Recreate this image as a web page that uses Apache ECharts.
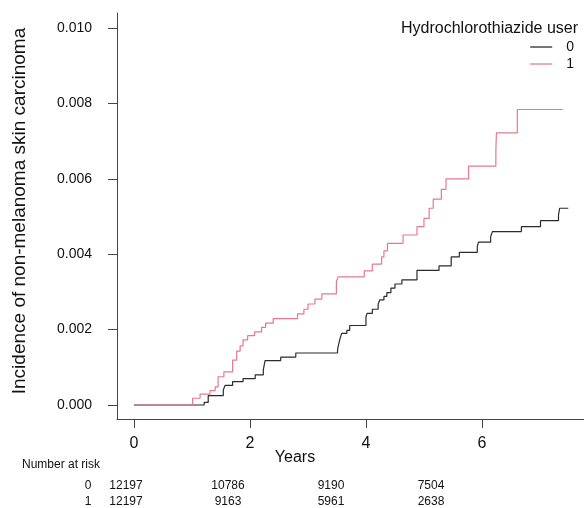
<!DOCTYPE html>
<html>
<head>
<meta charset="utf-8">
<script src="https://cdn.jsdelivr.net/npm/echarts@6/dist/echarts.min.js"></script>
<style>
  html, body { margin: 0; padding: 0; background: #fff; }
  #chart { width: 584px; height: 508px; }
</style>
</head>
<body>
<div id="chart"></div>
<script>
// step points [years, cumulative incidence]
var group0 = [
  [0, 0], [1.21, 0.00007], [1.28, 0.00025], [1.54, 0.00040], [1.57, 0.00052],
  [1.70, 0.00062], [1.88, 0.00070], [2.09, 0.00080], [2.23, 0.00093], [2.26, 0.00118],
  [2.53, 0.00127], [2.79, 0.00138], [3.51, 0.00146], [3.52, 0.00155], [3.55, 0.00174],
  [3.58, 0.00190], [3.67, 0.00198], [3.72, 0.00211], [4.00, 0.00234], [4.02, 0.00243],
  [4.11, 0.00254], [4.21, 0.00268], [4.24, 0.00279], [4.31, 0.00288], [4.36, 0.00298],
  [4.43, 0.00310], [4.50, 0.00321], [4.62, 0.00332], [4.88, 0.00357], [5.26, 0.00369],
  [5.47, 0.00393], [5.61, 0.00405], [5.92, 0.00420], [5.94, 0.00432], [6.15, 0.00446],
  [6.18, 0.00460], [6.68, 0.00473], [7.01, 0.00489], [7.32, 0.00504], [7.34, 0.00522],
  [7.49, 0.00522]
]
var group1 = [
  [0, 0], [1.01, 0.00018], [1.14, 0.00029], [1.31, 0.00038], [1.40, 0.00048],
  [1.45, 0.00075], [1.55, 0.00088], [1.70, 0.00119], [1.77, 0.00143], [1.83, 0.00157],
  [1.88, 0.00173], [1.96, 0.00184], [2.08, 0.00194], [2.20, 0.00206], [2.27, 0.00217],
  [2.40, 0.00229], [2.82, 0.00242], [2.93, 0.00254], [3.00, 0.00268], [3.12, 0.00281],
  [3.24, 0.00295], [3.49, 0.00327], [3.52, 0.00340], [3.97, 0.00356], [4.11, 0.00374],
  [4.27, 0.00393], [4.31, 0.00409], [4.37, 0.00429], [4.64, 0.00451], [4.88, 0.00473],
  [5.00, 0.00495], [5.09, 0.00522], [5.16, 0.00546], [5.30, 0.00572], [5.38, 0.00600],
  [5.77, 0.00634], [6.24, 0.00676], [6.25, 0.00722], [6.61, 0.00784], [7.40, 0.00784]
]
var groupNames = ['0', '1']
var xTicks = [0, 2, 4, 6]
var yTicks = [0, 0.002, 0.004, 0.006, 0.008, 0.010]
var riskLabel = 'Number at risk'
var risk0 = [12197, 10786, 9190, 7504]
var risk1 = [12197, 9163, 5961, 2638]

var font = '"Liberation Sans", Arial, Helvetica, sans-serif'
// column centres of the at-risk table (px)
var riskCols = [126, 228, 331, 431]

var chart = echarts.init(document.getElementById('chart'), null, { renderer: 'canvas' })

var tableText = [{
  type: 'text', x: 22, y: 465,
  style: { text: riskLabel, font: '12px ' + font, fill: '#111', verticalAlign: 'middle' }
}]
var rows = [risk0, risk1]
rows.forEach(function (row, r) {
  var y = 486 + r * 16
  tableText.push({
    type: 'text', x: 88, y: y,
    style: { text: groupNames[r], font: '12px ' + font, fill: '#111', align: 'center', verticalAlign: 'middle' }
  })
  row.forEach(function (n, c) {
    tableText.push({
      type: 'text', x: riskCols[c], y: y,
      style: { text: String(n), font: '12px ' + font, fill: '#111', align: 'center', verticalAlign: 'middle' }
    })
  })
})
tableText.push({
  type: 'text', x: 295, y: 458,
  style: { text: 'Years', font: '16px ' + font, fill: '#111', align: 'center', verticalAlign: 'middle' }
})

var options = {
  animation: false,
  backgroundColor: '#fff',
  textStyle: { fontFamily: font },
  title: {
    text: 'Hydrochlorothiazide user',
    right: 1,
    top: 16,
    textStyle: { fontSize: 16, fontWeight: 'normal', color: '#111', fontFamily: font }
  },
  legend: {
    data: groupNames,
    orient: 'vertical',
    right: 5,
    top: 35,
    icon: 'rect',
    itemWidth: 22,
    itemHeight: 1.3,
    itemGap: 3,
    textStyle: { fontSize: 14, color: '#111', padding: [0, 0, 0, 9], fontFamily: font }
  },
  grid: { left: 117, right: 0, top: 13, bottom: 89 },
  xAxis: {
    type: 'value',
    min: -0.293,
    max: 7.76,
    axisLine: { show: true, onZero: false, lineStyle: { color: '#444', width: 1 } },
    axisTick: { show: true, length: 9, customValues: xTicks, lineStyle: { color: '#444' } },
    axisLabel: { customValues: xTicks, fontSize: 16, color: '#111', margin: 17, fontFamily: font },
    splitLine: { show: false }
  },
  yAxis: {
    type: 'value',
    min: -0.000371,
    max: 0.0104,
    name: 'Incidence of non-melanoma skin carcinoma',
    nameLocation: 'middle',
    nameGap: 88,
    nameTextStyle: { fontSize: 19, color: '#111', fontFamily: font, padding: [0, 0, 0, 10] },
    axisLine: { show: true, onZero: false, lineStyle: { color: '#444', width: 1 } },
    axisTick: { show: true, length: 9, customValues: yTicks, lineStyle: { color: '#444' } },
    axisLabel: {
      customValues: yTicks, fontSize: 14, color: '#111', margin: 25, fontFamily: font,
      formatter: function (v) { return v.toFixed(3) }
    },
    splitLine: { show: false }
  },
  series: [{
    name: groupNames[0],
    type: 'line',
    step: 'end',
    symbol: 'none',
    data: group0,
    color: '#2b2b2b',
    lineStyle: { width: 1.2, color: '#2b2b2b' }
  }, {
    name: groupNames[1],
    type: 'line',
    step: 'end',
    symbol: 'none',
    data: group1,
    color: '#E7798C',
    lineStyle: { width: 1.2, color: '#E7798C' }
  }],
  graphic: tableText
}
chart.setOption(options)
</script>
</body>
</html>
